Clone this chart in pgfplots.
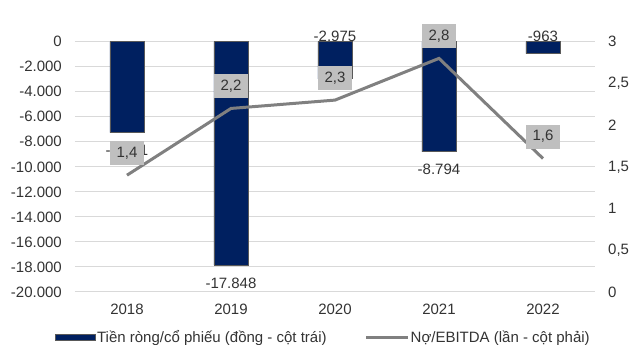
\documentclass[border=0pt]{standalone}
\usepackage{fontspec}
\setmainfont{Liberation Sans}
\usepackage{pgfplots}
\pgfplotsset{compat=1.18}

\definecolor{navy}{HTML}{002060}
\definecolor{barline}{HTML}{595959}
\definecolor{gridc}{HTML}{D9D9D9}
\definecolor{linec}{HTML}{808080}
\definecolor{boxc}{HTML}{BFBFBF}
\definecolor{txt}{HTML}{333333}

\pgfplotsset{
  base/.style={
    scale only axis,
    width=520pt, height=250.3pt,
    at={(75pt,53pt)}, anchor=south west,
    xmin=-0.5, xmax=4.5,
    font=\fontsize{15}{18}\selectfont,
    every tick label/.append style={text=txt},
    major tick length=0pt,
    axis line style={draw=none},
    scaled y ticks=false,
    clip=false,
  },
}

\begin{document}
\begin{tikzpicture}
\path[use as bounding box] (0pt,0pt) rectangle (630pt,345pt);

% Left axis: net cash per share (bars)
\begin{axis}[base,
  ymin=-20000, ymax=0,
  ytick={-20000,-18000,-16000,-14000,-12000,-10000,-8000,-6000,-4000,-2000,0},
  yticklabels={-20.000,-18.000,-16.000,-14.000,-12.000,-10.000,-8.000,-6.000,-4.000,-2.000,0},
  yticklabel style={anchor=east, inner sep=0pt, xshift=-13pt},
  xtick={0,1,2,3,4},
  xticklabels={2018,2019,2020,2021,2022},
  xticklabel style={anchor=center, inner sep=0pt, yshift=-17pt},
  ymajorgrids, grid style={gridc, line width=1pt},
  axis x line*=bottom, axis y line*=left,
]
\addplot[ybar, bar width=34pt, bar shift=0pt, fill=navy, draw=barline, line width=0.9pt,
  nodes near coords, point meta=explicit symbolic,
  nodes near coords style={text=txt, anchor=center, inner sep=0pt, yshift=-18pt}]
  coordinates {(0,-7271) [-7.271] (1,-17848) [-17.848] (3,-8794) [-8.794]};
\addplot[ybar, bar width=34pt, bar shift=0pt, fill=navy, draw=barline, line width=0.9pt]
  coordinates {(2,-2975) (4,-963)};
% labels of the two short bars sit above the zero line
\addplot[only marks, mark=none,
  nodes near coords, point meta=explicit symbolic,
  nodes near coords style={text=txt, anchor=center, inner sep=0pt, yshift=5.5pt}]
  coordinates {(2,0) [-2.975] (4,0) [-963]};
\end{axis}

% Right axis: debt / EBITDA (line)
\begin{axis}[base,
  ymin=0, ymax=3,
  ytick={0,0.5,1,1.5,2,2.5,3},
  yticklabels={0,{0,5},1,{1,5},2,{2,5},3},
  yticklabel style={anchor=west, inner sep=0pt, xshift=13pt},
  axis y line*=right,
  axis x line=none,
  legend columns=2,
  legend style={draw=none, fill=none, text=txt,
    at={(-0.0442,-0.18)}, anchor=west,
    font=\fontsize{15}{18}\selectfont,
    nodes={inner xsep=1pt, inner ysep=2pt},
    /tikz/every even column/.append style={column sep=37pt}},
]
\addlegendimage{legend image code/.code={\draw[fill=navy, draw=barline, line width=0.9pt] (0pt,-3pt) rectangle (40pt,3pt);}}
\addlegendentry{Tiền ròng/cổ phiếu (đồng - cột trái)}
\addplot[linec, line width=3pt, mark=none,
  legend image code/.code={\draw[linec, line width=3pt] (0pt,0pt) -- (42pt,0pt);},
  nodes near coords, point meta=explicit symbolic,
  nodes near coords style={text=txt, fill=boxc, anchor=center, inner sep=0pt,
    minimum width=34pt, minimum height=24pt, yshift=22pt}]
  coordinates {(0,1.4) [{1,4}] (1,2.2) [{2,2}] (2,2.3) [{2,3}] (3,2.8) [{2,8}] (4,1.6) [{1,6}]};
\addlegendentry{Nợ/EBITDA (lần - cột phải)}
\end{axis}
\end{tikzpicture}
\end{document}
